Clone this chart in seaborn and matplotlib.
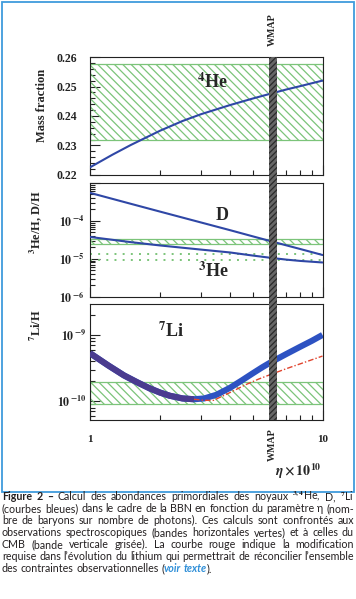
import numpy as np
import pandas as pd
import matplotlib
matplotlib.use("Agg")
import matplotlib.pyplot as plt
import seaborn as sns
from matplotlib.patches import Rectangle
from matplotlib.ticker import FixedLocator, MultipleLocator, LogLocator, NullFormatter

# ---------------- data ----------------
eta_he4 = [1, 1.25, 1.5, 2, 2.5, 3, 4, 5, 6, 7, 8, 10]
he4_mass_fraction = [0.2226, 0.2269, 0.2302, 0.2350, 0.2383, 0.2406, 0.2437, 0.2459, 0.2476,
                     0.2490, 0.2501, 0.2520]
eta = [1, 1.5, 2, 3, 4, 5, 6, 7, 8, 10]
d_over_h = [5.5e-4, 2.82e-4, 1.76e-4, 9.1e-5, 5.7e-5, 3.93e-5, 2.91e-5, 2.26e-5, 1.82e-5, 1.26e-5]
he3_over_h = [3.77e-5, 2.75e-5, 2.25e-5, 1.75e-5, 1.47e-5, 1.22e-5, 1.06e-5, 9.5e-6, 8.8e-6, 8.0e-6]

eta_li = [1, 1.2, 1.4, 1.6, 1.8, 2.0, 2.2, 2.5, 2.8, 3.1, 3.5, 4.0, 4.5, 5.0, 5.5, 6.0, 6.5,
          7.0, 8.0, 9.0, 10]
li7_over_h = [5.3e-10, 3.45e-10, 2.45e-10, 1.92e-10, 1.57e-10, 1.35e-10, 1.21e-10, 1.1e-10,
              1.07e-10, 1.1e-10, 1.25e-10, 1.59e-10, 2.06e-10, 2.62e-10, 3.24e-10, 3.88e-10,
              4.5e-10, 5.17e-10, 6.6e-10, 8.15e-10, 1.0e-9]
eta_li_mod = [1, 1.2, 1.4, 1.6, 1.8, 2.0, 2.2, 2.5, 2.8, 3.1, 3.4, 4.0, 4.7, 5.3, 6.0, 7.0, 8.0, 10]
li7_modified = [5.3e-10, 3.45e-10, 2.45e-10, 1.92e-10, 1.57e-10, 1.35e-10, 1.21e-10, 1.1e-10,
                1.07e-10, 1.03e-10, 1.03e-10, 1.35e-10, 1.79e-10, 2.15e-10, 2.54e-10, 3.1e-10,
                3.65e-10, 4.8e-10]
li_overlap_end = 2.8

he4_band = (0.232, 0.2575)
d_band = (2.45e-5, 3.4e-5)
he3_limits = [9.4e-6, 1.36e-5]
li_band = (9.2e-11, 1.92e-10)
wmap_eta = (5.89, 6.39)

he4_yticks = [0.22, 0.23, 0.24, 0.25, 0.26]
he4_yticklabels = ["0.22", "0.23", "0.24", "0.25", "0.26"]
mid_yticks = [1e-6, 1e-5, 1e-4, 1e-3]
mid_yticklabels = [r"$\mathbf{10}^{\,\mathbf{-6}}$", r"$\mathbf{10}^{\,\mathbf{-5}}$",
                   r"$\mathbf{10}^{\,\mathbf{-4}}$", ""]
li_yticks = [1e-10, 1e-9]
li_yticklabels = [r"$\mathbf{10}^{\,\mathbf{-10}}$", r"$\mathbf{10}^{\,\mathbf{-9}}$"]
xticks = [1, 10]
xticklabels = ["1", "10"]

caption_lines = [
    "**Figure **2 **– Calcul des abondances primordiales des noyaux $^{3,4}$He, D, $^{7}$Li",
    "(courbes bleues) dans le cadre de la BBN en fonction du paramètre η (nom-",
    "bre de baryons sur nombre de photons). Ces calculs sont confrontés aux",
    "observations spectroscopiques (bandes horizontales vertes) et à celles du",
    "CMB (bande verticale grisée). La courbe rouge indique la modification",
    "requise dans l’évolution du lithium qui permettrait de réconcilier l’ensemble",
    "des contraintes observationnelles (|@voir @texte|).",
]

# ---------------- style ----------------
sns.set_theme(style="white")
plt.rcParams["font.family"] = ["Liberation Serif", "DejaVu Serif"]
plt.rcParams["font.weight"] = "bold"
plt.rcParams["mathtext.fontset"] = "stix"
plt.rcParams["hatch.linewidth"] = 0.9
plt.rcParams["axes.edgecolor"] = "#222222"
plt.rcParams["axes.linewidth"] = 0.8

W, H = 356, 599
fig = plt.figure(figsize=(W / 100, H / 100), dpi=100)
fig.patch.set_facecolor("white")


def fx(x):
    return x / W


def fy(y):
    return 1 - y / H


BLUE = "#2f47a6"
LIBLUE = "#2d52c2"
PURPLE = "#4a3b8f"
GREEN = "#7cc47a"
RED = "#e0442e"
HATCH = "\\\\\\\\"

panels_px = [(90, 57, 322.5, 175), (90, 183, 322.5, 296.7), (90, 304.3, 322.5, 420)]
axs = []
for (x0, y0, x1, y1) in panels_px:
    ax = fig.add_axes([fx(x0), fy(y1), (x1 - x0) / W, (y1 - y0) / H])
    ax.set_facecolor("white")
    axs.append(ax)
ax1, ax2, ax3 = axs

for ax in axs:
    ax.set_xscale("log")
    ax.set_xlim(1, 10)
    ax.xaxis.set_major_locator(FixedLocator(xticks))
    ax.xaxis.set_minor_locator(LogLocator(base=10, subs=np.arange(2, 10), numticks=20))
    ax.xaxis.set_minor_formatter(NullFormatter())
    ax.tick_params(axis="both", which="both", direction="in", top=False, right=False,
                   left=True, bottom=True, colors="#222222", width=0.8)
    ax.tick_params(axis="both", which="major", length=7.5)
    ax.tick_params(axis="both", which="minor", length=3.8)
    for s in ax.spines.values():
        s.set_visible(True)

# ---- panel 1 : 4He ----
ax1.axhspan(*he4_band, facecolor="none", edgecolor=GREEN, hatch=HATCH, linewidth=0.9, zorder=1)
sns.lineplot(x=eta_he4, y=he4_mass_fraction, ax=ax1, color=BLUE, linewidth=1.5,
             estimator=None, sort=False, zorder=3)
ax1.set_ylim(0.22, 0.26)
ax1.yaxis.set_major_locator(FixedLocator(he4_yticks))
ax1.set_yticklabels(he4_yticklabels)
ax1.yaxis.set_minor_locator(MultipleLocator(0.002))
ax1.tick_params(axis="y", which="major", pad=9.3, labelsize=8.5)
ax1.set_xticklabels([])

# ---- panel 2 : D and 3He ----
ax2.set_yscale("log")
ax2.axhspan(*d_band, facecolor="none", edgecolor=GREEN, hatch=HATCH, linewidth=0.9, zorder=1)
for v in he3_limits:
    ax2.axhline(v, color=GREEN, linestyle=(0, (1, 3.2)), linewidth=1.4, zorder=1)
sns.lineplot(x=eta, y=d_over_h, ax=ax2, color=BLUE, linewidth=1.5, estimator=None, sort=False, zorder=3)
sns.lineplot(x=eta, y=he3_over_h, ax=ax2, color=BLUE, linewidth=1.5, estimator=None, sort=False, zorder=3)
ax2.set_ylim(1e-6, 1e-3)
ax2.yaxis.set_major_locator(FixedLocator(mid_yticks))
ax2.set_yticklabels(mid_yticklabels)
ax2.yaxis.set_minor_locator(LogLocator(base=10, subs=np.arange(2, 10), numticks=50))
ax2.yaxis.set_minor_formatter(NullFormatter())
ax2.tick_params(axis="y", which="major", pad=4, labelsize=8.5)
ax2.set_xticklabels([])

# ---- panel 3 : 7Li ----
ax3.set_yscale("log")
ax3.axhspan(*li_band, facecolor="none", edgecolor=GREEN, hatch=HATCH, linewidth=0.9, zorder=1)
sns.lineplot(x=eta_li, y=li7_over_h, ax=ax3, color=LIBLUE, linewidth=4.4,
             estimator=None, sort=False, zorder=3, solid_capstyle="butt")
mod = pd.DataFrame({"eta": eta_li_mod, "li": li7_modified})
overlap = mod[mod["eta"] <= li_overlap_end]
sns.lineplot(data=overlap, x="eta", y="li", ax=ax3, color=PURPLE, linewidth=4.4,
             estimator=None, sort=False, zorder=4, solid_capstyle="butt")
sns.lineplot(data=mod[mod["eta"] >= li_overlap_end], x="eta", y="li", ax=ax3, color=RED,
             linewidth=1.0, linestyle=(0, (4, 1.5, 1, 1.5)), estimator=None, sort=False, zorder=4)
ax3.set_ylim(5.2e-11, 2.9e-9)
ax3.yaxis.set_major_locator(FixedLocator(li_yticks))
ax3.set_yticklabels(li_yticklabels)
ax3.yaxis.set_minor_locator(LogLocator(base=10, subs=np.arange(2, 10), numticks=50))
ax3.yaxis.set_minor_formatter(NullFormatter())
ax3.tick_params(axis="y", which="major", pad=3, labelsize=8.5)
ax3.set_xticklabels(xticklabels)
ax3.tick_params(axis="x", which="major", pad=11, labelsize=8)

for ax in axs:
    ax.set_xlabel("")
    ax.set_ylabel("")

# ---- WMAP vertical band (continuous through the gaps) ----
gaps = [0.0, (183 - 175) / (296.7 - 183), (304.3 - 296.7) / (420 - 304.3)]
for ax, g in zip(axs, gaps):
    ax.axvspan(*wmap_eta, ymin=0, ymax=1 + g, facecolor="#666666", edgecolor="#2a2a2a",
               hatch="//////", linewidth=0, zorder=6, clip_on=False)

# ---- texts ----
fig.text(fx(272), fy(30), "WMAP", rotation=90, ha="center", va="center", fontsize=7.2)
fig.text(fx(272), fy(445), "WMAP", rotation=90, ha="center", va="center", fontsize=7.2)
fig.text(fx(42), fy(105), "Mass fraction", rotation=90, ha="center", va="center", fontsize=9)
fig.text(fx(36), fy(222), r"$^{\mathbf{3}}$He/H, D/H", rotation=90, ha="center", va="center", fontsize=9)
fig.text(fx(36), fy(325), r"$^{\mathbf{7}}$Li/H", rotation=90, ha="center", va="center", fontsize=9)
fig.text(fx(212), fy(82), r"$^{\mathbf{4}}$He", ha="center", va="center", fontsize=13)
fig.text(fx(222), fy(215), "D", ha="center", va="center", fontsize=13)
fig.text(fx(213), fy(271), r"$^{\mathbf{3}}$He", ha="center", va="center", fontsize=13)
fig.text(fx(171), fy(331), r"$^{\mathbf{7}}$Li", ha="center", va="center", fontsize=13)
fig.text(fx(322), fy(471), r"$\eta\times\mathbf{10^{10}}$", ha="right", va="center", fontsize=10)

# outer blue frame
fig.add_artist(Rectangle((fx(1.5), fy(492)), (353.5 - 1.5) / W, (492 - 1.5) / H,
                         transform=fig.transFigure, fill=False, edgecolor="#3f9bdc", linewidth=1.3))

# ---- justified caption ----
renderer = fig.canvas.get_renderer()
CAP_FONT = ["Lato", "DejaVu Sans"]
x_left, x_right = 2.0, 354.0
baseline0, line_step = 500.5, 11.9


def seg_style(seg):
    if seg.startswith("**"):
        return seg[2:], dict(fontweight="bold", color="#231f20", fontstyle="normal")
    if seg.startswith("@"):
        return seg[1:], dict(fontweight="bold", color="#2f8fd8", fontstyle="italic")
    return seg, dict(fontweight="normal", color="#231f20", fontstyle="normal")


def make_word(word, size):
    parts = []
    for seg in word.split("|"):
        if seg == "":
            continue
        txt, st = seg_style(seg)
        t = fig.text(0, 0, txt, fontsize=size, family=CAP_FONT, va="baseline", ha="left", **st)
        parts.append(t)
    return parts


def width_of(parts):
    return sum(p.get_window_extent(renderer).width for p in parts)


size = 9.0
probe = [make_word(w, size) for w in caption_lines[5].split(" ")]
natural = sum(width_of(p) for p in probe) + 0.22 * size * 100 / 72 * (len(probe) - 1)
for p in probe:
    for t in p:
        t.remove()
if natural > (x_right - x_left):
    size = size * (x_right - x_left) / natural * 0.995

space_nat = 0.24 * size * 100 / 72
for i, line in enumerate(caption_lines):
    words = [make_word(w, size) for w in line.split(" ")]
    widths = [width_of(p) for p in words]
    last = i == len(caption_lines) - 1
    if last or len(words) == 1:
        gap = space_nat
    else:
        gap = (x_right - x_left - sum(widths)) / (len(words) - 1)
    x = x_left
    yb = baseline0 + i * line_step
    for parts, wdt in zip(words, widths):
        xx = x
        for t in parts:
            t.set_position((fx(xx), fy(yb)))
            xx += t.get_window_extent(renderer).width
        x += wdt + gap

fig.savefig("out.png", dpi=100, facecolor="white")
